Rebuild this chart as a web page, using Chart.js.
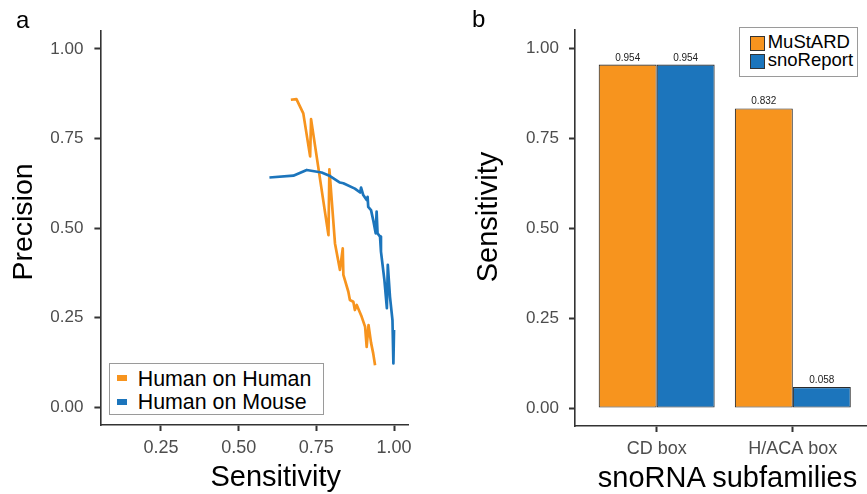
<!DOCTYPE html>
<html lang="en">
<head>
<meta charset="UTF-8">
<title>MuStARD | Precision / Sensitivity</title>
<script src="https://cdn.jsdelivr.net/npm/chart.js"></script>
<style>
  body { margin: 0; width: 867px; height: 494px; overflow: hidden; position: relative; background: #fff;
         font-family: "Liberation Sans", Arial, sans-serif; }
  .painel { position: absolute; top: 0; height: 494px; }
  .txt { position: absolute; white-space: nowrap; line-height: 1; color: #000; }
  .caixa { position: absolute; box-sizing: border-box; border: 1px solid #9a9a9a; background: #fff; }
  .chave { position: absolute; box-sizing: border-box; }
</style>
</head>
<body>
<div class="painel" style="left:0;width:430px"><canvas id="chart_pr" width="430" height="494"></canvas></div>
<div class="painel" style="left:440px;width:427px"><canvas id="chart_bar" width="427" height="494"></canvas></div>

<!-- panel tags and axis titles -->
<div class="txt" style="left:16px;top:8px;font-size:24px">a</div>
<div class="txt" style="left:472px;top:7.4px;font-size:24px">b</div>
<div class="txt" style="left:21.8px;top:221.5px;font-size:28.5px;transform:translate(-50%,-50%) rotate(-90deg)">Precision</div>
<div class="txt" style="left:275.7px;top:462.1px;font-size:29px;transform:translateX(-50%)">Sensitivity</div>
<div class="txt" style="left:486.7px;top:216.7px;font-size:29px;transform:translate(-50%,-50%) rotate(-90deg)">Sensitivity</div>
<div class="txt" style="left:727.5px;top:462.7px;font-size:29px;transform:translateX(-50%)">snoRNA subfamilies</div>

<div id="legenda_pr"></div>
<div id="legenda_bar"></div>

<script>
// panel a: precision / recall curves
var serieNomes = ['Human on Human', 'Human on Mouse'];

var recallHH = [0.668, 0.686, 0.708, 0.730, 0.733, 0.789, 0.792, 0.810, 0.826, 0.835, 0.837, 0.853, 0.858,
                0.869, 0.874, 0.880, 0.896, 0.907, 0.912, 0.918, 0.926, 0.933, 0.939];
var precHH   = [0.858, 0.860, 0.820, 0.700, 0.804, 0.480, 0.664, 0.457, 0.383, 0.443, 0.369, 0.322, 0.299,
                0.294, 0.271, 0.285, 0.252, 0.224, 0.168, 0.229, 0.180, 0.150, 0.117];

var recallHM = [0.599, 0.676, 0.719, 0.767, 0.794, 0.826, 0.837, 0.874, 0.891, 0.894, 0.901, 0.912, 0.915,
                0.917, 0.926, 0.933, 0.941, 0.944, 0.947, 0.955, 0.958, 0.969, 0.977, 0.980, 0.987, 0.995,
                0.998, 1.000];
var precHM   = [0.641, 0.646, 0.662, 0.655, 0.645, 0.627, 0.625, 0.610, 0.599, 0.613, 0.592, 0.578, 0.587,
                0.559, 0.550, 0.522, 0.485, 0.546, 0.485, 0.476, 0.434, 0.355, 0.276, 0.397, 0.308, 0.243,
                0.122, 0.215];

var prTicksX = [0.25, 0.50, 0.75, 1.00];
var prTicksY = [0.00, 0.25, 0.50, 0.75, 1.00];

// panel b: sensitivity per subfamily
var categorias = ['CD box', 'H/ACA box'];
var ferramentas = ['MuStARD', 'snoReport'];
var sensMuStARD = [0.954, 0.832];
var sensSnoReport = [0.954, 0.058];
var barTicksY = [0.00, 0.25, 0.50, 0.75, 1.00];

var corLaranja = '#F7941E';
var corAzul = '#1C75BC';
var fonte = '"Liberation Sans", Arial, sans-serif';

Chart.defaults.font.family = fonte;

function pontos(xs, ys) {
    var lista = [];
    for (var i = 0; i < xs.length; i++) {
        lista.push({ x: xs[i], y: ys[i] });
    }
    return lista;
}

function eixo(extra) {
    var base = {
        type: 'linear',
        offset: false,
        grid: { drawOnChartArea: false, offset: false, tickLength: 6, tickColor: '#333', tickWidth: 2 },
        border: { display: true, color: '#333', width: 1.6 },
        ticks: { color: '#4d4d4d', autoSkip: false, maxRotation: 0 }
    };
    return Object.assign(base, extra);
}

new Chart(document.getElementById('chart_pr'), {
    type: 'line',
    data: {
        datasets: [
            { label: serieNomes[0], data: pontos(recallHH, precHH), borderColor: corLaranja, backgroundColor: corLaranja,
              borderWidth: 2.7, pointRadius: 0, tension: 0, borderJoinStyle: 'round', order: 1 },
            { label: serieNomes[1], data: pontos(recallHM, precHM), borderColor: corAzul, backgroundColor: corAzul,
              borderWidth: 2.7, pointRadius: 0, tension: 0, borderJoinStyle: 'round', order: 0 }
        ]
    },
    options: {
        responsive: false,
        animation: false,
        layout: { padding: { top: 31, right: 22, bottom: 0, left: 0 } },
        plugins: { legend: { display: false }, tooltip: { enabled: false } },
        scales: {
            x: eixo({
                min: 0.055, max: 1.045,
                afterBuildTicks: function (s) { s.ticks = prTicksX.map(function (v) { return { value: v }; }); },
                afterFit: function (s) { s.height = 69; s.paddingLeft = 0; s.paddingRight = 0; },
                ticks: { color: '#4d4d4d', font: { size: 18 }, padding: 6, autoSkip: false, maxRotation: 0,
                         callback: function (v) { return v.toFixed(2); } }
            }),
            y: eixo({
                min: -0.05, max: 1.05,
                afterBuildTicks: function (s) { s.ticks = prTicksY.map(function (v) { return { value: v }; }); },
                afterFit: function (s) { s.width = 100.4; s.paddingTop = 0; s.paddingBottom = 0; },
                ticks: { color: '#4d4d4d', font: { size: 17 }, padding: 11, autoSkip: false,
                         callback: function (v) { return v.toFixed(2); } }
            })
        }
    }
});

// numbers above the bars
const rotulosBarras = {
    id: 'rotulosBarras',
    afterDatasetsDraw(chart) {
        const ctx = chart.ctx;
        ctx.save();
        ctx.font = '10px ' + fonte;
        ctx.fillStyle = '#222';
        ctx.textAlign = 'center';
        ctx.textBaseline = 'alphabetic';
        chart.data.datasets.forEach(function (ds, i) {
            chart.getDatasetMeta(i).data.forEach(function (bar, j) {
                ctx.fillText(ds.data[j].y.toFixed(3), bar.x, bar.y - 4);
            });
        });
        ctx.restore();
    }
};

var valoresBar = [sensMuStARD, sensSnoReport];
var coresBar = [corLaranja, corAzul];

new Chart(document.getElementById('chart_bar'), {
    type: 'bar',
    data: {
        datasets: ferramentas.map(function (nome, k) {
            return {
                label: nome,
                data: categorias.map(function (c, i) { return { x: i + 1, y: valoresBar[k][i] }; }),
                backgroundColor: coresBar[k],
                borderColor: '#2b2b2b',
                borderWidth: 1.1,
                borderSkipped: false,
                categoryPercentage: 0.852,
                barPercentage: 1.0
            };
        })
    },
    options: {
        responsive: false,
        animation: false,
        layout: { padding: { top: 30, right: 0, bottom: 0, left: 0 } },
        plugins: { legend: { display: false }, tooltip: { enabled: false } },
        scales: {
            x: eixo({
                min: 0.4, max: 2.545,
                afterBuildTicks: function (s) { s.ticks = categorias.map(function (c, i) { return { value: i + 1 }; }); },
                afterFit: function (s) { s.height = 68; s.paddingLeft = 0; s.paddingRight = 0; },
                ticks: { color: '#4d4d4d', font: { size: 18 }, padding: 6, autoSkip: false, maxRotation: 0,
                         callback: function (v, i) { return categorias[i]; } }
            }),
            y: eixo({
                min: -0.05, max: 1.05,
                afterBuildTicks: function (s) { s.ticks = barTicksY.map(function (v) { return { value: v }; }); },
                afterFit: function (s) { s.width = 135; s.paddingTop = 0; s.paddingBottom = 0; },
                ticks: { color: '#4d4d4d', font: { size: 17 }, padding: 10, autoSkip: false,
                         callback: function (v) { return v.toFixed(2); } }
            })
        }
    },
    plugins: [rotulosBarras]
});

// legends (html boxes)
function montarLegenda(alvo, caixa, itens) {
    var html = '<div class="caixa" style="left:' + caixa.x + 'px;top:' + caixa.y + 'px;width:' + caixa.w +
               'px;height:' + caixa.h + 'px"></div>';
    itens.forEach(function (it) {
        html += '<div class="chave" style="left:' + it.kx + 'px;top:' + it.ky + 'px;width:' + it.kw + 'px;height:' +
                it.kh + 'px;background:' + it.cor + ';' + (it.borda ? 'border:1px solid #333;' : '') + '"></div>';
        html += '<div class="txt" style="left:' + it.tx + 'px;top:' + it.ty + 'px;font-size:' + it.fs + 'px">' +
                it.nome + '</div>';
    });
    document.getElementById(alvo).innerHTML = html;
}

montarLegenda('legenda_pr', { x: 109, y: 363, w: 215, h: 52 }, [
    { nome: serieNomes[0], cor: corLaranja, kx: 116.7, ky: 375.3, kw: 10, kh: 6, tx: 137.7, ty: 369.2, fs: 21.4 },
    { nome: serieNomes[1], cor: corAzul, kx: 116.7, ky: 398.7, kw: 10, kh: 6, tx: 137.7, ty: 391.6, fs: 21.4 }
]);

montarLegenda('legenda_bar', { x: 739.3, y: 27.3, w: 118.4, h: 50 }, [
    { nome: ferramentas[0], cor: corLaranja, kx: 750, ky: 35.7, kw: 15.3, kh: 15, tx: 767.7, ty: 33.3, fs: 18.5, borda: true },
    { nome: ferramentas[1], cor: corAzul, kx: 750, ky: 54, kw: 15.3, kh: 15, tx: 767.7, ty: 51, fs: 18.5, borda: true }
]);
</script>
</body>
</html>
